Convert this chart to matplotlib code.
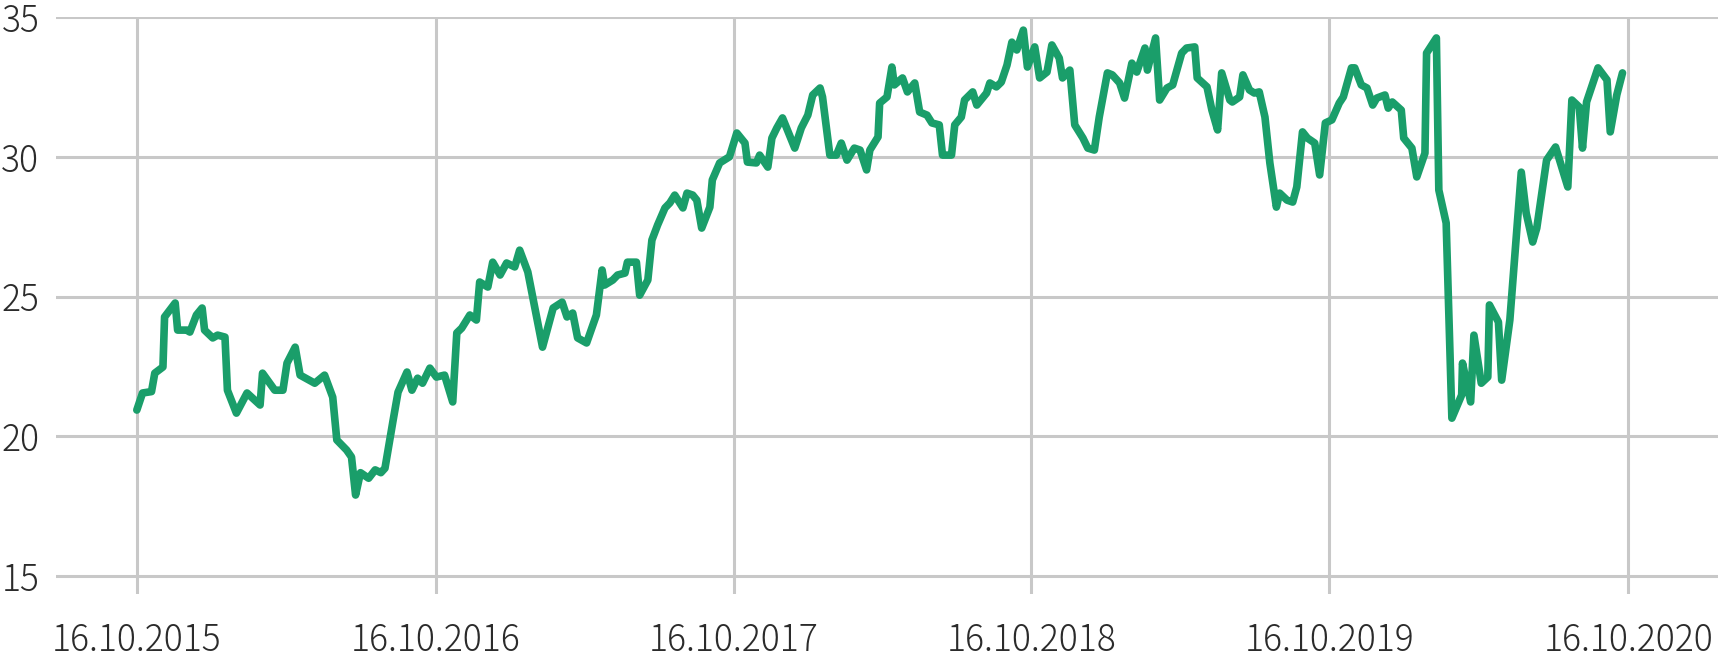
import pandas as pd
import matplotlib
matplotlib.use("Agg")
import matplotlib.pyplot as plt
import matplotlib.dates as mdates

# ---------------------------------
# DATA
# ---------------------------------

start_date = "2015-10-16"

# days after 16.10.2015
day_offsets = [
    0, 7, 18, 22, 32, 34, 47, 50, 61, 65, 73, 80, 83, 93, 99, 108, 111, 122,
    135, 151, 154, 169, 179, 184, 194, 200, 218, 230, 240, 245, 257, 263, 268,
    274, 284, 292, 299, 304, 314, 320, 331, 337, 344, 350, 359, 367, 377, 387,
    392, 398, 408, 416, 420, 430, 436, 445, 453, 463, 469, 479, 497, 510, 521,
    527, 534, 540, 551, 563, 570, 573, 583, 589, 598, 601, 612, 616, 626, 631,
    638, 647, 653, 659, 669, 674, 681, 686, 692, 702, 705, 714, 726, 735, 745,
    748, 759, 763, 773, 778, 784, 791, 806, 814, 822, 828, 837, 840, 849, 857,
    863, 870, 879, 886, 894, 898, 908, 910, 919, 925, 928, 938, 944, 953, 959,
    968, 974, 983, 987, 998, 1002, 1010, 1014, 1024, 1029, 1041, 1045, 1053,
    1059, 1066, 1072, 1078, 1086, 1091, 1100, 1106, 1115, 1121, 1130, 1134,
    1143, 1149, 1159, 1165, 1173, 1179, 1189, 1195, 1204, 1210, 1219, 1225,
    1235, 1238, 1248, 1253, 1262, 1269, 1280, 1286, 1296, 1299, 1311, 1317,
    1324, 1329, 1339, 1342, 1351, 1355, 1363, 1369, 1375, 1382, 1388, 1396,
    1400, 1409, 1416, 1421, 1428, 1434, 1443, 1449, 1456, 1464, 1473, 1478,
    1488, 1492, 1500, 1507, 1514, 1519, 1529, 1533, 1538, 1549, 1552, 1562,
    1568, 1578, 1580, 1592, 1595, 1604, 1611, 1623, 1624, 1634, 1638, 1647,
    1655, 1657, 1668, 1672, 1682, 1696, 1702, 1710, 1715, 1727, 1738, 1753,
    1758, 1767, 1771, 1776, 1783, 1790, 1801, 1805, 1813, 1820,
]

prices = [
    20.94, 21.55, 21.60, 22.26, 22.48, 24.27, 24.77, 23.80, 23.80, 23.73, 24.34,
    24.59, 23.80, 23.52, 23.62, 23.55, 21.65, 20.83, 21.55, 21.12, 22.26, 21.65,
    21.65, 22.62, 23.19, 22.19, 21.90, 22.19, 21.40, 19.87, 19.51, 19.26, 17.90,
    18.70, 18.50, 18.80, 18.70, 18.86, 20.58, 21.58, 22.30, 21.65, 22.08, 21.90,
    22.44, 22.12, 22.19, 21.23, 23.70, 23.87, 24.34, 24.16, 25.52, 25.34, 26.23,
    25.77, 26.20, 26.06, 26.66, 25.88, 23.19, 24.59, 24.80, 24.27, 24.41, 23.52,
    23.34, 24.34, 25.95, 25.41, 25.59, 25.77, 25.84, 26.23, 26.23, 25.05, 25.59,
    27.02, 27.56, 28.17, 28.35, 28.63, 28.17, 28.70, 28.63, 28.45, 27.45, 28.20,
    29.17, 29.78, 30.00, 30.85, 30.49, 29.81, 29.78, 30.06, 29.63, 30.67, 31.03,
    31.39, 30.31, 31.03, 31.49, 32.21, 32.46, 32.14, 30.06, 30.06, 30.49, 29.88,
    30.31, 30.24, 29.53, 30.24, 30.71, 31.92, 32.14, 33.21, 32.57, 32.82, 32.32,
    32.64, 31.60, 31.49, 31.21, 31.14, 30.06, 30.06, 31.14, 31.42, 32.03, 32.32,
    31.85, 32.28, 32.64, 32.50, 32.67, 33.28, 34.10, 33.82, 34.53, 33.21, 33.93,
    32.82, 33.03, 34.00, 33.53, 32.82, 33.10, 31.14, 30.67, 30.31, 30.24, 31.42,
    33.00, 32.93, 32.64, 32.10, 33.35, 33.03, 33.89, 33.10, 34.25, 32.03, 32.46,
    32.57, 33.71, 33.89, 33.93, 32.82, 32.50, 31.67, 30.96, 33.00, 32.03, 31.96,
    32.14, 32.93, 32.39, 32.28, 32.32, 31.42, 29.78, 28.20, 28.70, 28.45, 28.38,
    28.92, 30.89, 30.67, 30.49, 29.35, 31.21, 31.32, 31.92, 32.14, 33.18, 33.18,
    32.57, 32.46, 31.85, 32.10, 32.21, 31.74, 31.96, 31.67, 30.67, 30.31, 29.28,
    30.13, 33.71, 34.25, 28.81, 27.63, 20.65, 21.48, 22.62, 21.23, 23.62, 21.90,
    22.12, 24.70, 24.09, 22.01, 24.16, 29.45, 27.99, 26.95, 27.45, 29.88, 30.35,
    28.92, 32.03, 31.78, 30.31, 31.96, 32.57, 33.18, 32.75, 30.89, 32.21, 33.00,
]

tick_dates = ["2015-10-16", "2016-10-16", "2017-10-16",
              "2018-10-16", "2019-10-16", "2020-10-16"]
y_ticks = [15, 20, 25, 30, 35]

# ---------------------------------
# BUILD SERIES
# ---------------------------------

dates = pd.Timestamp(start_date) + pd.to_timedelta(day_offsets, unit="D")
series = pd.Series(prices, index=dates)

# ---------------------------------
# CREATE GRAPH
# ---------------------------------

plt.rcParams["font.family"] = ["Noto Sans CJK JP", "DejaVu Sans"]
plt.rcParams["font.weight"] = 300

fig = plt.figure(figsize=(17.18, 6.58), dpi=100)
ax = fig.add_axes([56 / 1718, 1 - 594 / 658, 1 - 56 / 1718, 577 / 658])

ax.plot(series.index, series.values, color="#1a9e6a", linewidth=5.5,
        solid_joinstyle="round", solid_capstyle="round", clip_on=False, zorder=3)

ax.set_xlim(pd.Timestamp(tick_dates[0]) - pd.Timedelta(days=99),
            pd.Timestamp(tick_dates[-1]) + pd.Timedelta(days=110))
ax.set_ylim(14.36, 35)

ax.set_xticks(pd.to_datetime(tick_dates))
ax.xaxis.set_major_formatter(mdates.DateFormatter("%d.%m.%Y"))
ax.set_yticks(y_ticks)

ax.grid(True, color="#c8c8c8", linewidth=2.2)
ax.set_axisbelow(True)
for side in ax.spines.values():
    side.set_visible(False)

ax.tick_params(axis="both", length=0, labelsize=25.5, labelcolor="#2b2b2b")
ax.tick_params(axis="x", pad=20)
ax.tick_params(axis="y", pad=12)

# ---------------------------------
# SAVE GRAPH
# ---------------------------------

fig.savefig("out.png", dpi=100)
